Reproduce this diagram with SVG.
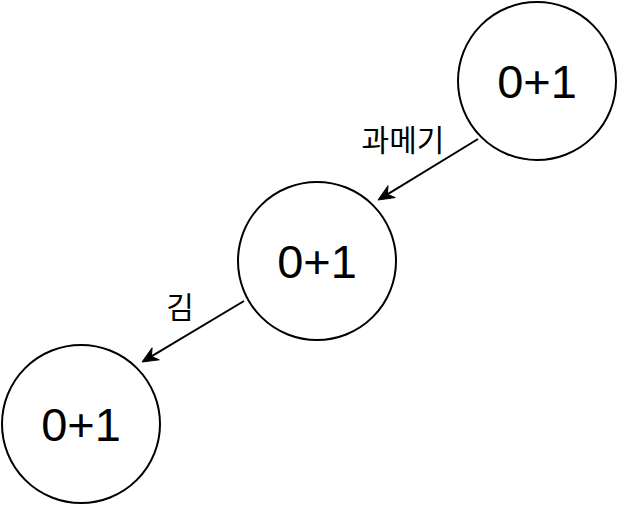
<svg xmlns="http://www.w3.org/2000/svg" width="618" height="506" viewBox="0 0 618 506">
<defs>
<style>
.node circle{fill:#fff;stroke:#000;stroke-width:2}
.node text{font-family:'Liberation Sans',Arial,sans-serif;font-size:47px;fill:#000;text-anchor:middle}
.edge{stroke:#000;stroke-width:2;fill:none}
.head{fill:#000;stroke:#000;stroke-width:1}
.lbl{font-family:'Liberation Sans','Noto Sans CJK KR',sans-serif;font-size:30px;fill:#000;text-anchor:middle}
</style>
</defs>
<g id="connectors">
<line class="edge" x1="478" y1="139" x2="387.4" y2="194.3"/>
<path class="head" d="M378,200 L388,185.7 L387.4,194.3 L395.3,197.6 Z"/>
<line class="edge" x1="244" y1="301" x2="151.4" y2="356.4"/>
<path class="head" d="M142,362 L152.1,347.8 L151.4,356.4 L159.3,359.8 Z"/>
<text class="lbl" x="403" y="151">과메기</text>
<text class="lbl" x="180" y="318">김</text>
</g>
<g id="n1" class="node"><circle cx="537" cy="81" r="79"/><text x="537" y="98">0+1</text></g>
<g id="n2" class="node"><circle cx="317" cy="261" r="79"/><text x="317" y="278">0+1</text></g>
<g id="n3" class="node"><circle cx="81" cy="424" r="79"/><text x="81" y="441">0+1</text></g>
</svg>
